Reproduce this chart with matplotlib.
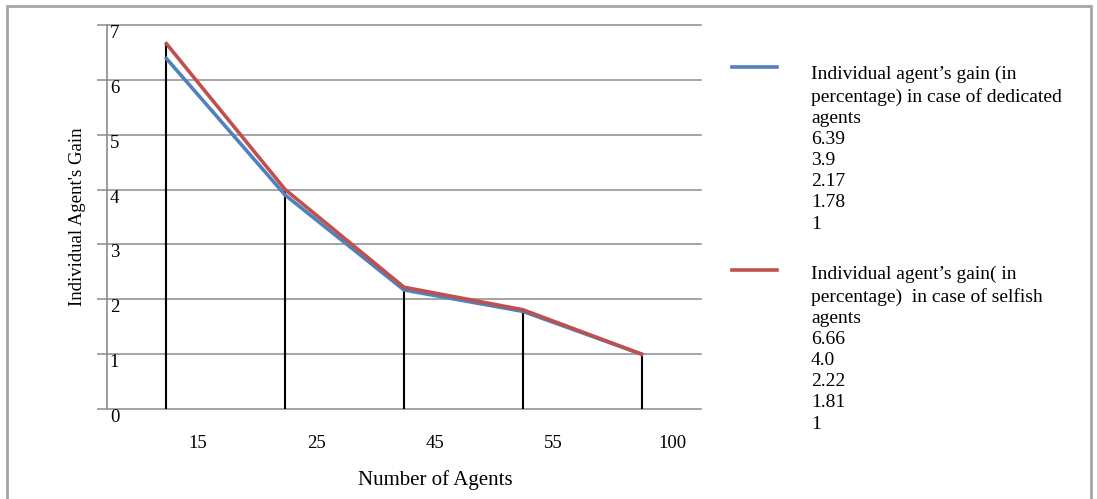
import matplotlib
matplotlib.use("Agg")
import matplotlib.pyplot as plt
from matplotlib.lines import Line2D
from matplotlib.patches import Rectangle
import numpy as np

plt.rcParams['font.family'] = ['Liberation Serif', 'DejaVu Serif']

agents = ['15', '25', '45', '55', '100']
dedicated = [6.39, 3.9, 2.17, 1.78, 1]
selfish = [6.66, 4.0, 2.22, 1.81, 1]
dedicated_label = "Individual agent\u2019s gain (in\npercentage) in case of dedicated\nagents"
selfish_label = "Individual agent\u2019s gain( in\npercentage)  in case of selfish\nagents"

BLUE = '#4F81BD'
RED = '#C0504D'
GRID = '#8C8C8C'

W, H = 1097, 499
fig = plt.figure(figsize=(W / 100, H / 100), dpi=100)
ax = fig.add_axes([107 / W, 1 - 409 / H, (701 - 107) / W, (409 - 25) / H])

x = np.arange(len(agents))
# drop lines from zero to the top of each point
tops = np.maximum(dedicated, selfish)
ax.vlines(x, 0, tops, color='black', lw=1.5, zorder=2)
ax.plot(x, dedicated, color=BLUE, lw=2.6, zorder=3)
ax.plot(x, selfish, color=RED, lw=2.6, zorder=4)

ax.set_xlim(-0.5, len(agents) - 0.5)
ax.set_ylim(0, 7)
ax.set_yticks(range(8))
ax.yaxis.grid(True, color=GRID, lw=1.1)
for gl in ax.get_ygridlines():
    gl.set_clip_on(False)
ax.set_axisbelow(True)
for s in ['top', 'right', 'bottom']:
    ax.spines[s].set_visible(False)
ax.spines['left'].set_color(GRID)
ax.spines['left'].set_linewidth(1.2)

ax.tick_params(axis='y', direction='out', length=7, width=1.1, color=GRID, pad=-9, labelsize=13.5)
for lbl in ax.get_yticklabels():
    lbl.set_ha('left')
    lbl.set_va('top')

ax.set_xticks(x + 0.26)
ax.set_xticklabels(agents)
ax.tick_params(axis='x', length=0, pad=19, labelsize=13.5)

ax.text(0.552, -0.185, 'Number of Agents', transform=ax.transAxes,
        ha='center', va='center', fontsize=15)
ax.text(-0.0505, 0.5, "Individual Agent's Gain", transform=ax.transAxes,
        ha='center', va='center', rotation=90, fontsize=13.5)

# legend, drawn by hand in figure pixels
def fx(px):
    return px / W

def fy(py):
    return 1 - py / H

blocks = [(BLUE, dedicated_label, dedicated, 67, 66),
          (RED, selfish_label, selfish, 270, 266)]
for col, lab, vals, ly, ty in blocks:
    fig.add_artist(Line2D([fx(732), fx(777)], [fy(ly), fy(ly)], color=col, lw=2.6))
    txt = lab + '\n' + '\n'.join(f'{v:g}' if v != 4.0 else '4.0' for v in vals)
    fig.text(fx(811), fy(ty), txt, ha='left', va='top', fontsize=14, linespacing=1.32)

fig.add_artist(Rectangle((fx(7), -0.1), fx(1091) - fx(7), fy(6) + 0.1,
                         fill=False, edgecolor='#A6A6A6', lw=2, transform=fig.transFigure))

fig.savefig('out.png', dpi=100)
